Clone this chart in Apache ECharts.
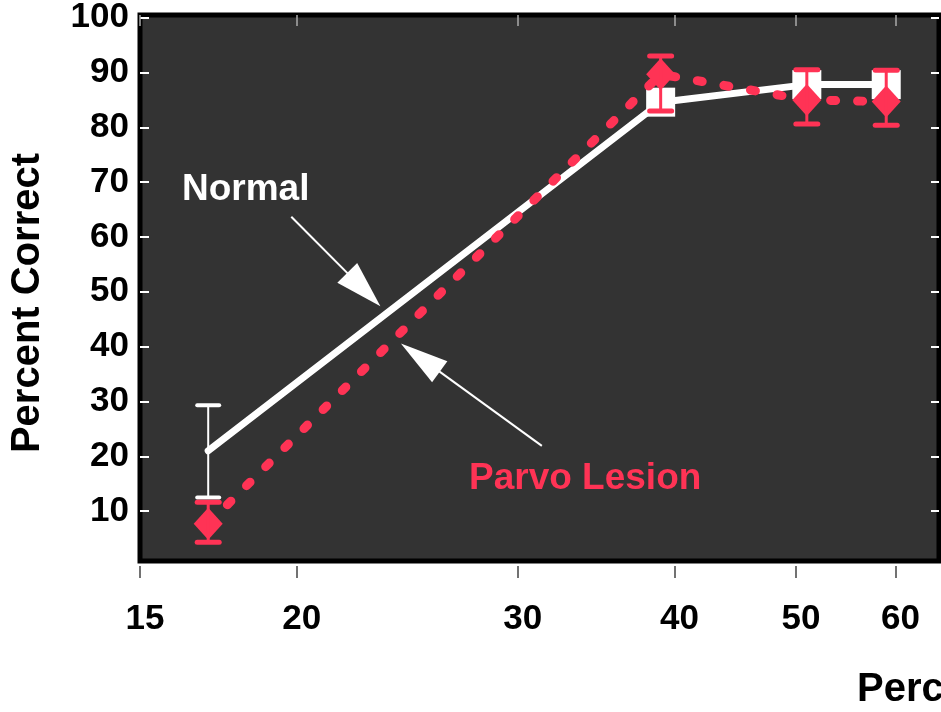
<!DOCTYPE html>
<html>
<head>
<meta charset="utf-8">
<script src="https://cdn.jsdelivr.net/npm/echarts@6/dist/echarts.min.js"></script>
<style>
html,body{margin:0;padding:0;background:#ffffff;}
#chart{width:941px;height:712px;}
</style>
</head>
<body>
<div id="chart"></div>
<script>
// ---- data ----
var xTickValues = [15, 20, 30, 40, 50, 60];
var yTickValues = [10, 20, 30, 40, 50, 60, 70, 80, 90, 100];

var normalX    = [17, 39, 51, 59];
var normalY    = [21.0, 84.6, 87.8, 87.8];
var normalLow  = [12.5, 82.6, 86.0, 86.0];
var normalHigh = [29.3, 86.7, 89.6, 89.6];

var parvoX    = [17, 39, 51, 59];
var parvoY    = [7.7, 89.7, 85.0, 84.7];
var parvoLow  = [4.3, 83.0, 80.6, 80.4];
var parvoHigh = [11.6, 93.0, 90.5, 90.4];

// annotation arrows: [startX, startY, headX, headY]
var normalArrow = [19.8, 63.7, 22.62, 50.4];
var parvoArrow  = [31.36, 21.9, 25.09, 38.0];

var RED = '#ff3355';
var FONT = 'Liberation Sans, Arial, Helvetica, sans-serif';

function pairs(xs, ys) { return xs.map(function (x, i) { return [x, ys[i]]; }); }
function triples(xs, lo, hi) { return xs.map(function (x, i) { return [x, lo[i], hi[i]]; }); }

function errRender(color, lineW, capW, capH) {
  return function (params, api) {
    var x = api.value(0);
    var pLo = api.coord([x, api.value(1)]);
    var pHi = api.coord([x, api.value(2)]);
    return {
      type: 'group',
      children: [
        { type: 'line', shape: { x1: pLo[0], y1: pLo[1], x2: pHi[0], y2: pHi[1] },
          style: { stroke: color, lineWidth: lineW } },
        { type: 'line', shape: { x1: pLo[0] - capW / 2, y1: pLo[1], x2: pLo[0] + capW / 2, y2: pLo[1] },
          style: { stroke: color, lineWidth: capH, lineCap: 'round' } },
        { type: 'line', shape: { x1: pHi[0] - capW / 2, y1: pHi[1], x2: pHi[0] + capW / 2, y2: pHi[1] },
          style: { stroke: color, lineWidth: capH, lineCap: 'round' } }
      ]
    };
  };
}

var normalData = pairs(normalX, normalY).map(function (p, i) {
  return i === 0 ? { value: p, symbol: 'none' } : { value: p };
});

var chart = echarts.init(document.getElementById('chart'), null, { renderer: 'canvas' });
chart.setOption({
  animation: false,
  backgroundColor: '#ffffff',
  grid: {
    left: 139, right: 2, top: 15, bottom: 151,
    show: true, backgroundColor: '#333333', borderColor: '#000000', borderWidth: 5
  },
  xAxis: [{
    type: 'log', logBase: 10, min: 15, max: 65, position: 'bottom', offset: 5,
    axisLine: { show: false },
    splitLine: { show: false },
    axisTick: { show: true, length: 12, lineStyle: { color: '#444444', width: 1.5 }, customValues: xTickValues },
    axisLabel: { show: true, customValues: xTickValues, color: '#000000', fontSize: 35, fontWeight: 'bold',
      fontFamily: FONT, margin: 36, padding: [0, 0, 0, 10] }
  }, {
    type: 'log', logBase: 10, min: 15, max: 65, position: 'top',
    axisLine: { show: false },
    splitLine: { show: false },
    axisTick: { show: true, inside: true, length: 11, lineStyle: { color: '#aaaaaa', width: 1.5 }, customValues: xTickValues },
    axisLabel: { show: false }
  }],
  yAxis: [{
    type: 'value', min: 0.9, max: 100.5, position: 'left',
    name: 'Percent Correct', nameLocation: 'middle', nameGap: 92, nameRotate: 90,
    nameTextStyle: { color: '#000000', fontSize: 40, fontWeight: 'bold', fontFamily: FONT, padding: [0, 30, 0, 0] },
    axisLine: { show: false },
    splitLine: { show: false },
    axisTick: { show: true, inside: true, length: 9, lineStyle: { color: '#ffffff', width: 2 }, customValues: yTickValues },
    axisLabel: { show: true, customValues: yTickValues, color: '#000000', fontSize: 35, fontWeight: 'bold',
      fontFamily: FONT, margin: 11, padding: [8, 0, 0, 0] }
  }, {
    type: 'value', min: 0.9, max: 100.5, position: 'right',
    axisLine: { show: false },
    splitLine: { show: false },
    axisTick: { show: true, inside: true, length: 8, lineStyle: { color: '#ffffff', width: 2 }, customValues: yTickValues },
    axisLabel: { show: false }
  }],
  series: [{
    name: 'Normal', type: 'line', xAxisIndex: 0, yAxisIndex: 0, z: 2,
    data: normalData,
    symbol: 'rect', symbolSize: 29,
    itemStyle: { color: '#ffffff' },
    lineStyle: { color: '#ffffff', width: 7, cap: 'round', join: 'round' },
    markLine: {
      silent: true, animation: false,
      symbol: ['none', 'triangle'],
      label: { show: false },
      lineStyle: { color: '#ffffff', width: 2, type: 'solid' },
      itemStyle: { color: '#ffffff' },
      data: [
        [{ coord: [normalArrow[0], normalArrow[1]], symbol: 'none' },
         { coord: [normalArrow[2], normalArrow[3]], symbol: 'triangle', symbolSize: [28, 47] }],
        [{ coord: [parvoArrow[0], parvoArrow[1]], symbol: 'none' },
         { coord: [parvoArrow[2], parvoArrow[3]], symbol: 'triangle', symbolSize: [26, 48] }]
      ]
    }
  }, {
    name: 'Normal error', type: 'custom', xAxisIndex: 0, yAxisIndex: 0, z: 3,
    data: triples(normalX, normalLow, normalHigh),
    encode: { x: 0, y: [1, 2] },
    renderItem: errRender('#ffffff', 2, 22, 4)
  }, {
    name: 'Parvo Lesion', type: 'line', xAxisIndex: 0, yAxisIndex: 0, z: 4,
    data: pairs(parvoX, parvoY),
    symbol: 'diamond', symbolSize: [29, 32],
    itemStyle: { color: RED },
    lineStyle: { color: RED, width: 9, type: [5, 22], cap: 'round' }
  }, {
    name: 'Parvo error', type: 'custom', xAxisIndex: 0, yAxisIndex: 0, z: 5,
    data: triples(parvoX, parvoLow, parvoHigh),
    encode: { x: 0, y: [1, 2] },
    renderItem: errRender(RED, 3, 22, 5)
  }],
  graphic: [
    { type: 'text', left: 182, top: 171, z: 100,
      style: { text: 'Normal', fill: '#ffffff', font: 'bold 37px ' + FONT } },
    { type: 'text', left: 469, top: 460, z: 100,
      style: { text: 'Parvo Lesion', fill: RED, font: 'bold 37px ' + FONT } },
    { type: 'text', left: 857, top: 670, z: 100,
      style: { text: 'Percent Contrast', fill: '#000000', font: 'bold 40px ' + FONT } }
  ]
});
</script>
</body>
</html>
